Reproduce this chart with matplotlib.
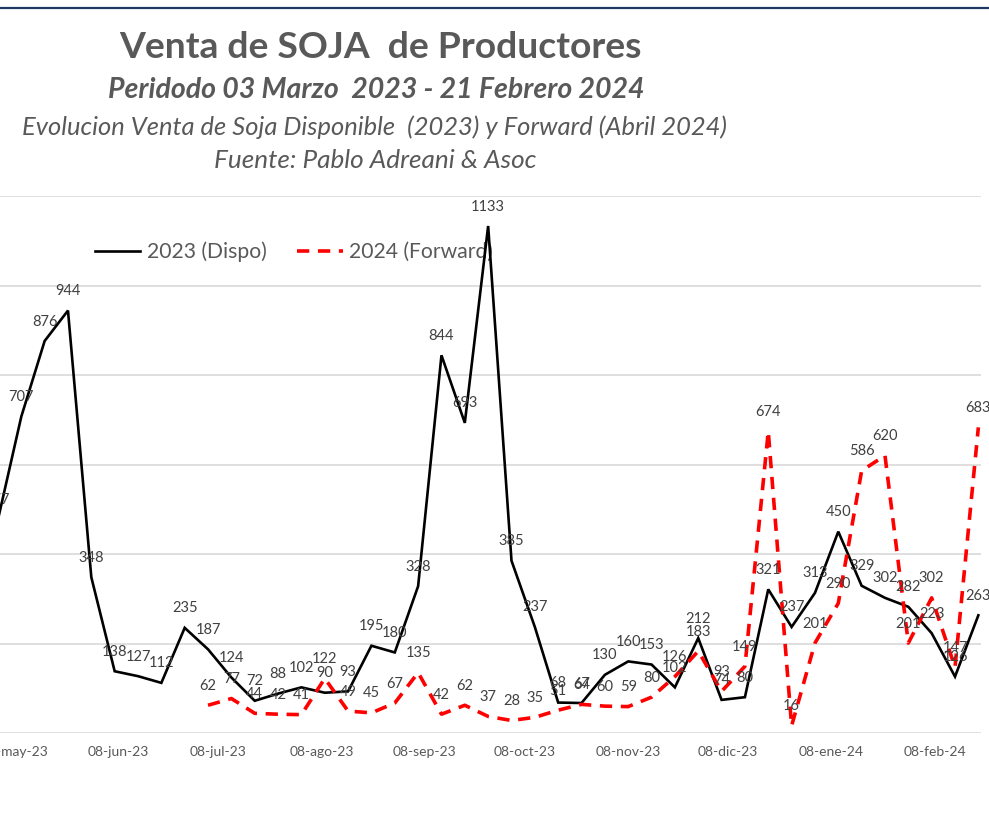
import matplotlib
matplotlib.use("Agg")
import matplotlib.pyplot as plt
import matplotlib.dates as mdates
from matplotlib.lines import Line2D
import pandas as pd
import numpy as np

# ---------------- data ----------------
dates = pd.date_range("2023-05-03", periods=43, freq="7D")
dispo_2023 = [477, 707, 876, 944, 348, 138, 127, 112, 235, 187, 124, 72, 88, 102,
              90, 93, 195, 180, 328, 844, 693, 1133, 385, 237, 68, 67, 130, 160,
              153, 102, 212, 74, 80, 321, 237, 313, 450, 329, 302, 282, 223, 126, 263]
forward_start = 9  # forward series begins 05-jul-2023
forward_2024 = [62, 77, 44, 42, 41, 122, 49, 45, 67, 135, 42, 62, 37, 28, 35, 51,
                64, 60, 59, 80, 126, 183, 93, 149, 674, 16, 201, 290, 586, 620,
                201, 302, 147, 683]
tick_dates = pd.to_datetime(["2023-05-08", "2023-06-08", "2023-07-08", "2023-08-08",
                             "2023-09-08", "2023-10-08", "2023-11-08", "2023-12-08",
                             "2024-01-08", "2024-02-08"])
tick_labels = ["08-may-23", "08-jun-23", "08-jul-23", "08-ago-23", "08-sep-23",
               "08-oct-23", "08-nov-23", "08-dic-23", "08-ene-24", "08-feb-24"]
label_2023 = "2023 (Dispo)"
label_2024 = "2024 (Forward)"

title = "Venta de SOJA  de Productores"
sub1 = "Peridodo 03 Marzo  2023 - 21 Febrero 2024"
sub2 = "Evolucion Venta de Soja Disponible  (2023) y Forward (Abril 2024)"
sub3 = "Fuente: Pablo Adreani & Asoc"

# ---------------- style ----------------
FONT = "Lato"
plt.rcParams["font.family"] = [FONT, "DejaVu Sans"]
GRAY = "#595959"
LGRAY = "#404040"

W, H = 989, 816
fig = plt.figure(figsize=(W / 100, H / 100), dpi=100)
fig.patch.set_facecolor("white")

ax_left, ax_right, ax_top, ax_bot = 0, 981, 196, 733
ax = fig.add_axes([ax_left / W, 1 - ax_bot / H, (ax_right - ax_left) / W, (ax_bot - ax_top) / H])

xd = mdates.date2num(dates)
fwd_x = xd[forward_start:]

ax.plot(xd, dispo_2023, color="black", lw=1.9, zorder=3, label=label_2023, solid_joinstyle="miter")
ax.plot(fwd_x, forward_2024, color="#ff0000", lw=2.6, ls=(0, (3.4, 2.4)), zorder=3,
        label=label_2024, dash_capstyle="butt")

for x, v in zip(xd, dispo_2023):
    ax.annotate(str(v), (x, v), xytext=(0, 14), textcoords="offset points",
                ha="center", va="center", fontsize=10.5, color=LGRAY,
                annotation_clip=False, zorder=4)
for x, v in zip(fwd_x, forward_2024):
    ax.annotate(str(v), (x, v), xytext=(0, 14), textcoords="offset points",
                ha="center", va="center", fontsize=10.5, color=LGRAY,
                annotation_clip=False, zorder=4)

# x scale: 08-jun-23 at px 118, 08-feb-24 at px 935
d_jun = mdates.date2num(pd.Timestamp("2023-06-08"))
d_feb = mdates.date2num(pd.Timestamp("2024-02-08"))
ppd = (935 - 118) / (d_feb - d_jun)
ax.set_xlim(d_jun - (118 - ax_left) / ppd, d_feb + (ax_right - 935) / ppd)
ax.set_ylim(0, 1200)
ax.set_yticks(np.arange(0, 1201, 200))
ax.set_xticks(mdates.date2num(tick_dates))
ax.set_xticklabels(tick_labels)
ax.tick_params(axis="x", length=0, pad=9, labelsize=10, labelcolor=GRAY)
ax.tick_params(axis="y", left=False, labelleft=False)
ax.grid(axis="y", color="#d9d9d9", lw=1.2)
ax.grid(axis="x", visible=False)
ax.set_axisbelow(True)
for s in ax.spines.values():
    s.set_visible(False)

leg = ax.legend(loc="center left", bbox_to_anchor=(95 / W, 1 - 252 / H),
                bbox_transform=fig.transFigure, ncol=2, frameon=False,
                fontsize=15.2, handlelength=2.15, handletextpad=0.3,
                columnspacing=1.45, borderpad=0, borderaxespad=0)
for t in leg.get_texts():
    t.set_color(GRAY)
leg.set_zorder(1)

fig.text(380 / W, 1 - 47 / H, title, ha="center", va="center", fontsize=26.8,
         fontweight="bold", color=GRAY)
fig.text(376 / W, 1 - 90 / H, sub1, ha="center", va="center", fontsize=20.5,
         fontweight="bold", fontstyle="italic", color=GRAY)
fig.text(375 / W, 1 - 127 / H, sub2, ha="center", va="center", fontsize=18.4,
         fontstyle="italic", color=GRAY)
fig.text(375 / W, 1 - 160 / H, sub3, ha="center", va="center", fontsize=18.8,
         fontstyle="italic", color=GRAY)

fig.add_artist(Line2D([0, 1], [1 - 8 / H, 1 - 8 / H], transform=fig.transFigure,
                      color="#1f3864", lw=1.6))

fig.savefig("out.png", dpi=100, facecolor="white")
